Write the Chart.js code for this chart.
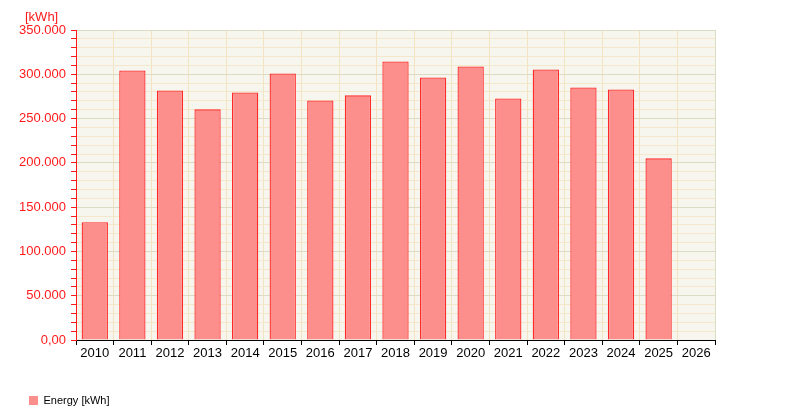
<!DOCTYPE html>
<html>
<head>
<meta charset="utf-8">
<script src="https://cdn.jsdelivr.net/npm/chart.js@4/dist/chart.umd.min.js"></script>
<style>
  html, body { margin: 0; padding: 0; background: #fff; }
  #wrap { width: 790px; height: 420px; }
</style>
</head>
<body>
<div id="wrap"><canvas id="chart_energy"></canvas></div>
<script>
// data
var years = ['2010', '2011', '2012', '2013', '2014', '2015', '2016', '2017', '2018',
  '2019', '2020', '2021', '2022', '2023', '2024', '2025', '2026']
var energy = [132900, 304400, 281800, 260400, 279500, 301000, 270500, 276200, 314500,
  296500, 308900, 272800, 305500, 285200, 282900, 205100, null]
var seriesName = 'Energy [kWh]'
var unitLabel = '[kWh]'
var yMax = 350000
var yMinorStep = 10000
var yMajorStep = 50000

var colors = {
  plot_bg: '#F6F6EE',
  grid_major: '#DADDC4',
  grid_minor: '#F5E7CB',
  grid_vert: '#F3E3C2',
  bar_fill: '#FC8F8C',
  bar_line: '#FF2A2A',
  axis_red: '#FF1A1A'
}

Chart.defaults.font.family = "'Liberation Sans', Arial, sans-serif"
Chart.defaults.font.size = 13

// paint the plot area cream, and put the unit above the y axis
var plotBackground = {
  id: 'plotBackground',
  beforeDraw: function (chart) {
    var a = chart.chartArea
    var c = chart.ctx
    c.save()
    c.fillStyle = colors.plot_bg
    c.fillRect(a.left, a.top, a.right - a.left, a.bottom - a.top)
    c.restore()
  },
  afterDraw: function (chart) {
    var c = chart.ctx
    c.save()
    c.fillStyle = colors.axis_red
    c.font = "13px 'Liberation Sans', Arial, sans-serif"
    c.textAlign = 'left'
    c.textBaseline = 'middle'
    c.fillText(unitLabel, 25, 17)
    c.restore()
  }
}

function formatTick(v) {
  if (v === 0) return '0,00'
  if (v % yMajorStep !== 0) return ''
  return String(v).replace(/\B(?=(\d{3})+(?!\d))/g, '.')
}

// legend square without the red outline
function legendLabels(chart) {
  var items = Chart.defaults.plugins.legend.labels.generateLabels(chart)
  items.forEach(function (it) {
    it.strokeStyle = colors.bar_fill
    it.lineWidth = 0
  })
  return items
}

var ctx = document.getElementById('chart_energy').getContext('2d')

var chart = new Chart(ctx, {
  type: 'bar',
  data: {
    labels: years,
    datasets: [{
      label: seriesName,
      data: energy,
      backgroundColor: colors.bar_fill,
      borderColor: colors.bar_line,
      borderWidth: 1.3,
      barPercentage: 0.7,
      categoryPercentage: 1
    }]
  },
  options: {
    responsive: true,
    maintainAspectRatio: false,
    animation: false,
    layout: {
      padding: { left: 19, right: 75, top: 30, bottom: 4 }
    },
    plugins: {
      legend: {
        position: 'bottom',
        align: 'start',
        labels: {
          boxWidth: 9,
          boxHeight: 9,
          padding: 10,
          color: '#000',
          font: { size: 11 },
          generateLabels: legendLabels
        }
      },
      tooltip: { enabled: false }
    },
    scales: {
      x: {
        afterFit: function (scale) { scale.height = 45 },
        grid: {
          offset: true,
          color: function (c) { return c.type === 'scale' ? colors.grid_major : colors.grid_vert },
          lineWidth: 1,
          tickLength: 5,
          tickColor: '#000'
        },
        border: { color: '#000', width: 1 },
        ticks: { color: '#000', padding: 1, font: { size: 13 } }
      },
      y: {
        min: 0,
        max: yMax,
        afterFit: function (scale) { scale.width = 57 },
        grid: {
          color: function (c) {
            return c.tick && c.tick.value % yMajorStep === 0 ? colors.grid_major : colors.grid_minor
          },
          tickColor: colors.axis_red,
          tickLength: 5
        },
        border: { color: colors.axis_red, width: 1 },
        ticks: {
          stepSize: yMinorStep,
          autoSkip: false,
          color: colors.axis_red,
          padding: 5,
          font: { size: 13 },
          callback: formatTick
        }
      }
    }
  },
  plugins: [plotBackground]
})
</script>
</body>
</html>
